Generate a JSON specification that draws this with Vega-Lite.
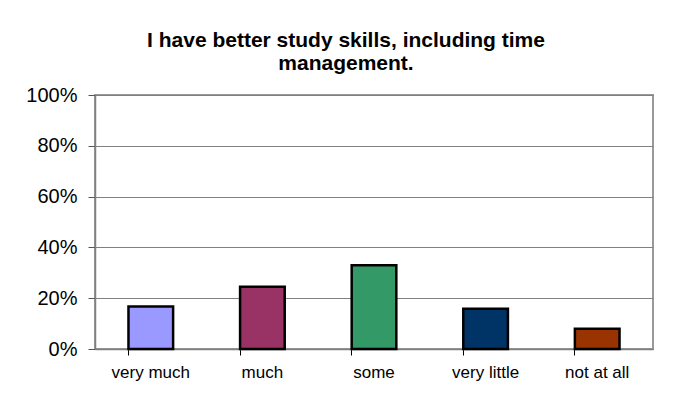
{
  "$schema": "https://vega.github.io/schema/vega-lite/v6.json",
  "autosize": "none",
  "width": 558,
  "height": 254,
  "padding": {"left": 95, "top": 95, "right": 35, "bottom": 51},
  "background": "white",
  "title": {
    "text": ["I have better study skills, including time", "management."],
    "font": "Liberation Sans",
    "fontSize": 21,
    "fontWeight": "bold",
    "color": "black",
    "lineHeight": 23.5,
    "anchor": "middle",
    "dx": -28,
    "offset": 11
  },
  "data": {
    "values": [
      {"response": "very much", "share": 0.167},
      {"response": "much", "share": 0.245},
      {"response": "some", "share": 0.33},
      {"response": "very little", "share": 0.158},
      {"response": "not at all", "share": 0.08}
    ]
  },
  "mark": {"type": "bar", "stroke": "black", "strokeWidth": 2.5},
  "encoding": {
    "x": {
      "field": "response",
      "type": "nominal",
      "sort": null,
      "scale": {"paddingInner": 0.6, "paddingOuter": 0.3},
      "axis": {
        "title": null,
        "labelAngle": 0,
        "bandPosition": 0,
        "labelFont": "Liberation Sans",
        "labelFontSize": 17,
        "labelColor": "black",
        "labelPadding": 9,
        "tickSize": 6,
        "tickColor": "black",
        "domainColor": "#808080",
        "domainWidth": 1.5,
        "grid": false
      }
    },
    "y": {
      "field": "share",
      "type": "quantitative",
      "scale": {"domain": [0, 1]},
      "axis": {
        "title": null,
        "format": ".0%",
        "values": [0, 0.2, 0.4, 0.6, 0.8, 1],
        "labelFont": "Liberation Sans",
        "labelFontSize": 20,
        "labelColor": "black",
        "labelPadding": 11,
        "tickSize": 7,
        "tickColor": "#555555",
        "domainColor": "#808080",
        "domainWidth": 1.5,
        "gridColor": "#808080",
        "gridWidth": 1
      }
    },
    "color": {
      "field": "response",
      "type": "nominal",
      "sort": null,
      "scale": {
        "domain": ["very much", "much", "some", "very little", "not at all"],
        "range": ["#9999FF", "#993366", "#339966", "#003366", "#993300"]
      },
      "legend": null
    }
  },
  "config": {
    "view": {"stroke": "#999999", "strokeWidth": 2},
    "bar": {"opacity": 1}
  }
}
